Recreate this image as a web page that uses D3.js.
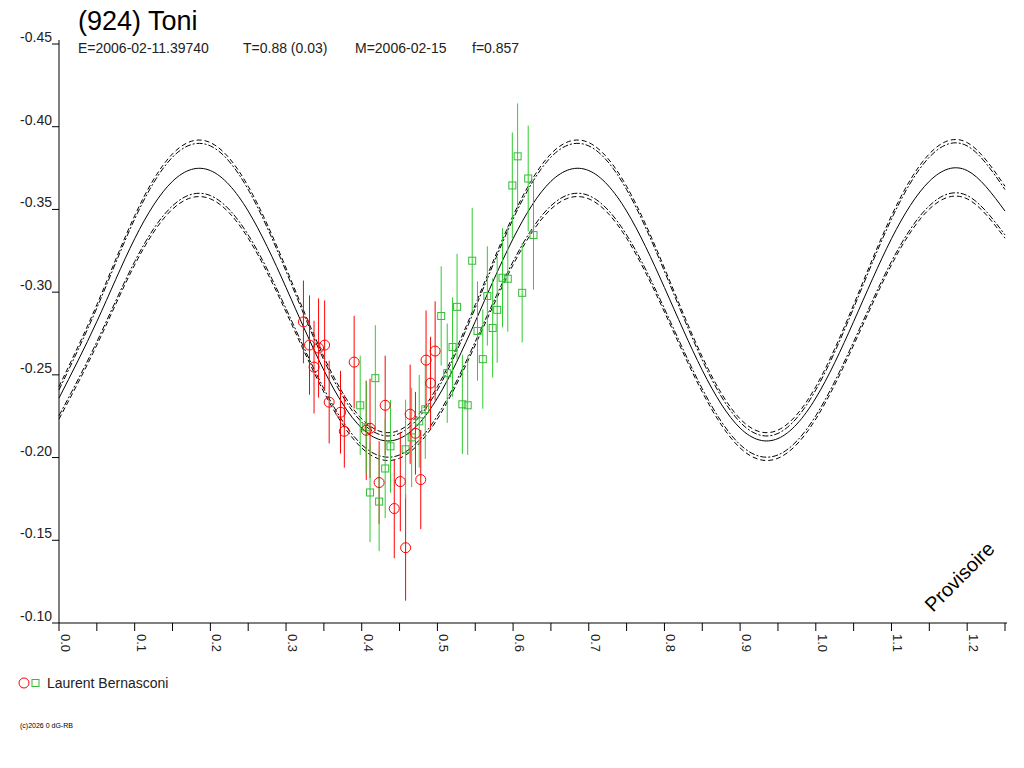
<!DOCTYPE html><html><head><meta charset="utf-8"><script src="https://cdn.jsdelivr.net/npm/d3@7"></script>
<style>body{margin:0;background:#fff}text{font-family:"Liberation Sans",Arial,sans-serif}</style></head><body>
<svg id="c" width="1024" height="768"></svg>
<script>
const curvePhase=[0,0.05,0.10,0.15,0.20,0.25,0.30,0.35,0.40,0.45];
const mainCurve=[-0.236,-0.2822,-0.3323,-0.367,-0.3735,-0.349,-0.3028,-0.2528,-0.2178,-0.2115];
const upperCurve=[-0.2409,-0.2904,-0.3442,-0.3816,-0.3884,-0.3620,-0.3126,-0.2589,-0.2214,-0.2146];
const lowerCurve=[-0.2253,-0.2700,-0.3185,-0.3522,-0.3584,-0.3346,-0.2900,-0.2416,-0.2078,-0.2016];
const redX=[0.323,0.331,0.337,0.343,0.351,0.357,0.377,0.372,0.390,0.406,0.411,0.423,0.431,0.443,0.451,0.458,0.464,0.471,0.478,0.485,0.491,0.497];
const redY=[-0.282,-0.268,-0.2547,-0.2662,-0.268,-0.2335,-0.2159,-0.2274,-0.2577,-0.2165,-0.2177,-0.1849,-0.2316,-0.1692,-0.1855,-0.1455,-0.2262,-0.2147,-0.1867,-0.2589,-0.245,-0.2644];
const redE=[0.025,0.03,0.028,0.03,0.027,0.025,0.022,0.025,0.028,0.03,0.03,0.025,0.03,0.03,0.03,0.032,0.03,0.025,0.03,0.03,0.028,0.03];
const greenX=[0.398,0.406,0.411,0.418,0.423,0.431,0.438,0.458,0.466,0.476,0.484,0.505,0.513,0.520,0.526,0.533,0.540,0.546,0.553,0.560,0.566,0.573,0.579,0.586,0.593,0.599,0.606,0.612,0.620,0.627];
const greenY=[-0.2316,-0.2183,-0.1789,-0.248,-0.1734,-0.1934,-0.2068,-0.205,-0.2122,-0.2219,-0.2292,-0.2856,-0.251,-0.2668,-0.2911,-0.2322,-0.2316,-0.319,-0.2765,-0.2595,-0.2977,-0.2783,-0.2893,-0.3087,-0.3081,-0.3645,-0.3821,-0.2996,-0.3687,-0.3345];
const greenE=[0.03,0.028,0.03,0.032,0.03,0.03,0.028,0.03,0.03,0.028,0.03,0.03,0.03,0.03,0.032,0.03,0.03,0.032,0.03,0.03,0.03,0.03,0.032,0.03,0.032,0.032,0.032,0.03,0.032,0.033];
const xTicks=[0,0.1,0.2,0.3,0.4,0.5,0.6,0.7,0.8,0.9,1.0,1.1,1.2];
const yTicks=[-0.45,-0.40,-0.35,-0.30,-0.25,-0.20,-0.15,-0.10];
const headerParts=["E=2006-02-11.39740","T=0.88 (0.03)","M=2006-02-15","f=0.857"];

const svg=d3.select("#c");
const x=d3.scaleLinear().domain([0,1.25]).range([59,1005]);
const y=d3.scaleLinear().domain([-0.45,-0.10]).range([44,623]);
svg.append("line").attr("x1",59).attr("x2",59).attr("y1",40).attr("y2",623).attr("stroke","#000");
svg.append("line").attr("x1",59).attr("x2",1007).attr("y1",623).attr("y2",623).attr("stroke","#000");
yTicks.forEach(t=>{
  svg.append("line").attr("x1",52).attr("x2",59).attr("y1",y(t)).attr("y2",y(t)).attr("stroke","#000");
  svg.append("text").attr("x",52).attr("y",y(t)-2).attr("text-anchor","end").attr("font-size",14).attr("fill","#222").text(t.toFixed(2));
});
d3.range(0,1.26,0.05).forEach(t=>{
  svg.append("line").attr("x1",x(t)).attr("x2",x(t)).attr("y1",623).attr("y2",631).attr("stroke","#000");
});
xTicks.forEach(t=>{
  svg.append("text").attr("transform",`translate(${x(t)+2},634) rotate(90)`).attr("font-size",13).attr("fill","#222").text(t.toFixed(1));
});
function fullCurve(vals){const pts=[];for(let k=0;k<3;k++)curvePhase.forEach((p,i)=>{const xx=p+0.5*k;if(xx<=1.25+1e-9)pts.push([xx,vals[i]]);});return pts;}
const line=d3.line().x(d=>x(d[0])).y(d=>y(d[1])).curve(d3.curveNatural);
svg.append("path").attr("d",line(fullCurve(mainCurve))).attr("fill","none").attr("stroke","#000");
[upperCurve,lowerCurve].forEach((c,j)=>{
  svg.append("path").attr("d",line(fullCurve(c))).attr("fill","none").attr("stroke","#000").attr("stroke-dasharray","6,2,2,2");
  const off=j==0?-0.002:0.002;
  svg.append("path").attr("d",line(fullCurve(c.map(v=>v+off)))).attr("fill","none").attr("stroke","#000").attr("stroke-dasharray","5,3");
});
redX.forEach((v,i)=>{svg.append("line").attr("x1",x(v)).attr("x2",x(v)).attr("y1",y(redY[i]-redE[i])).attr("y2",y(redY[i]+redE[i])).attr("stroke","#f00");});
greenX.forEach((v,i)=>{svg.append("line").attr("x1",x(v)).attr("x2",x(v)).attr("y1",y(greenY[i]-greenE[i])).attr("y2",y(greenY[i]+greenE[i])).attr("stroke","#3c3");});
greenX.forEach((v,i)=>{svg.append("rect").attr("x",x(v)-3.5).attr("y",y(greenY[i])-3.5).attr("width",7).attr("height",7).attr("fill","none").attr("stroke","#3b3");});
redX.forEach((v,i)=>{svg.append("circle").attr("cx",x(v)).attr("cy",y(redY[i])).attr("r",5).attr("fill","none").attr("stroke","#f00");});
svg.append("text").attr("x",78).attr("y",30).attr("font-size",27).text("(924) Toni");
const hx=[78,243,355,472];
headerParts.forEach((s,i)=>svg.append("text").attr("x",hx[i]).attr("y",53).attr("font-size",14).attr("fill","#222").text(s));
svg.append("text").attr("transform","translate(933,613) rotate(-45)").attr("font-size",20).text("Provisoire");
svg.append("circle").attr("cx",24).attr("cy",683).attr("r",5).attr("fill","none").attr("stroke","#f00");
svg.append("rect").attr("x",32).attr("y",679.5).attr("width",7).attr("height",7).attr("fill","none").attr("stroke","#3b3");
svg.append("text").attr("x",47).attr("y",688).attr("font-size",14).attr("fill","#222").text("Laurent Bernasconi");
svg.append("text").attr("x",20).attr("y",728).attr("font-size",7).text("(c)2026 0 dG-RB");
</script></body></html>
